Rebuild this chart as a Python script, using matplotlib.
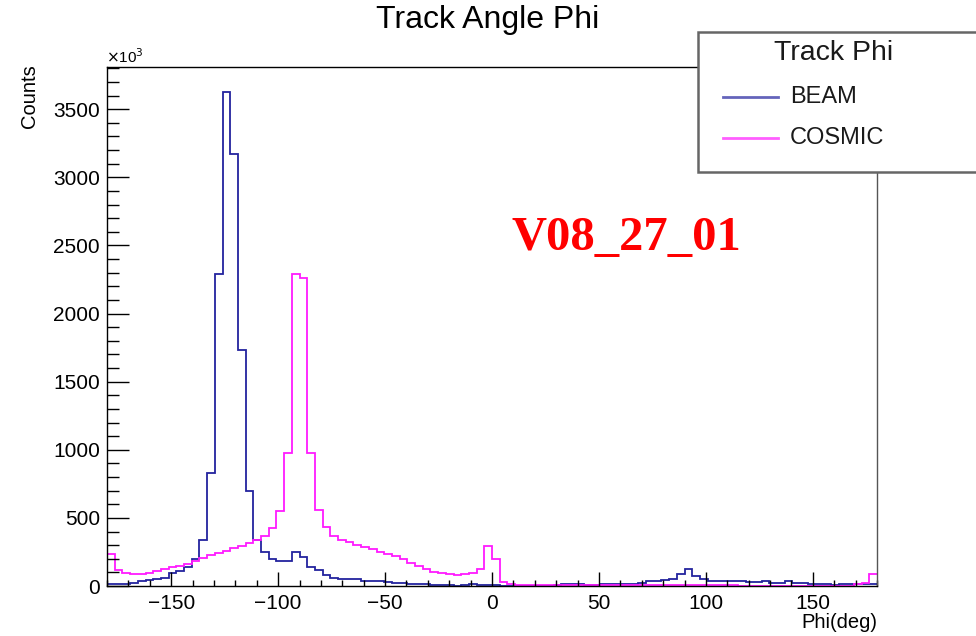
"""Track angle phi histogram, BEAM vs COSMIC (ROOT style)."""

import matplotlib

matplotlib.use("Agg")
import matplotlib.pyplot as plt
import numpy as np
from matplotlib.lines import Line2D
from matplotlib.patches import Rectangle
from matplotlib.ticker import MultipleLocator

# 100 bins from -180 to 180 deg
phi_range = (-180, 180)
n_bins = 100

beam_counts = [
    15, 15, 18, 25, 40, 45, 50, 60, 95, 110,
    140, 195, 340, 830, 2290, 3630, 3170, 1730, 700, 340,
    250, 200, 180, 180, 250, 215, 140, 115, 80, 60,
    50, 55, 50, 40, 38, 35, 30, 25, 20, 18,
    15, 12, 10, 5, 5, 3, 5, 12, 8, 5,
    5, 3, 2, 1, 1, 1, 1, 2, 5, 17,
    17, 17, 5, 5, 17, 17, 17, 17, 17, 25,
    35, 35, 45, 55, 85, 127, 75, 55, 40, 40,
    40, 40, 39, 30, 30, 39, 25, 25, 39, 25,
    25, 15, 12, 12, 10, 12, 12, 15, 15, 15,
]

cosmic_counts = [
    232, 120, 92, 85, 85, 95, 112, 122, 138, 150,
    165, 185, 205, 225, 245, 260, 280, 295, 315, 335,
    370, 425, 550, 980, 2290, 2260, 980, 555, 430, 365,
    340, 320, 300, 285, 268, 250, 235, 218, 195, 170,
    150, 125, 105, 92, 86, 83, 85, 98, 122, 295,
    200, 30, 12, 10, 5, 4, 4, 5, 5, 4,
    4, 4, 4, 4, 4, 4, 4, 4, 4, 4,
    4, 4, 4, 4, 4, 4, 4, 4, 4, 4,
    4, 4, 3, 3, 3, 3, 3, 3, 3, 3,
    3, 3, 3, 3, 3, 3, 3, 12, 25, 86,
]

series_labels = ["BEAM", "COSMIC"]
series_colors = ["#23239e", "#ff1aff"]

W, H = 976, 636
FONT = "Liberation Sans"


def fx(px):
    return px / W


def fy(py):
    return 1 - py / H


def main() -> None:
    plt.rcParams["font.family"] = FONT
    fig = plt.figure(figsize=(W / 100, H / 100), dpi=100)
    ax = fig.add_axes([fx(107), fy(586), fx(877) - fx(107), fy(67) - fy(586)])

    edges = np.linspace(phi_range[0], phi_range[1], n_bins + 1)
    ax.stairs(beam_counts, edges, color=series_colors[0], lw=1.3, baseline=None)
    ax.stairs(cosmic_counts, edges, color=series_colors[1], lw=1.3, baseline=None)

    ax.set_xlim(*phi_range)
    ax.set_ylim(0, 3810)

    ax.xaxis.set_major_locator(MultipleLocator(50))
    ax.xaxis.set_minor_locator(MultipleLocator(10))
    ax.yaxis.set_major_locator(MultipleLocator(500))
    ax.yaxis.set_minor_locator(MultipleLocator(100))
    ax.tick_params(axis="x", which="major", direction="in", length=10, width=1,
                   pad=6, labelsize=15, top=False)
    ax.tick_params(axis="x", which="minor", direction="in", length=4.5, width=1, top=False)
    ax.tick_params(axis="y", which="major", direction="in", length=16, width=1,
                   pad=5, labelsize=15, right=False)
    ax.tick_params(axis="y", which="minor", direction="in", length=8.5, width=1, right=False)
    for side in ["left", "bottom", "top", "right"]:
        ax.spines[side].set_linewidth(1.0)
    ax.spines["right"].set_color("#555555")

    fig.text(fx(488), fy(20), "Track Angle Phi", ha="center", va="center", fontsize=23)
    fig.text(fx(30), fy(64), "Counts", rotation=90, ha="center", va="top", fontsize=14.5)
    fig.text(fx(877), fy(622), "Phi(deg)", ha="right", va="center", fontsize=14.5)
    fig.text(fx(106), fy(57), r"$\times$10$^{3}$", ha="left", va="center", fontsize=11)

    fig.text(fx(512), fy(238), "V08_27_01", ha="left", va="center", fontsize=35,
             fontweight="bold", color="#ff0000", family="Liberation Serif")

    # legend box, drawn over the frame like the ROOT pave
    fig.add_artist(Rectangle((fx(698), fy(172)), fx(990) - fx(698), fy(32) - fy(172),
                             transform=fig.transFigure, facecolor="white",
                             edgecolor="#666666", lw=1.8, zorder=5))
    fig.text(fx(834), fy(53), "Track Phi", ha="center", va="center", fontsize=20.5,
             color="#1a1a1a", zorder=6)
    for label, color, ypx in zip(series_labels, series_colors, [97, 138]):
        fig.add_artist(Line2D([fx(723), fx(778)], [fy(ypx), fy(ypx)], color=color,
                              lw=2, alpha=0.7, transform=fig.transFigure, zorder=6))
        fig.text(fx(790), fy(ypx), label, ha="left", va="center", fontsize=17,
                 color="#1a1a1a", zorder=6)

    fig.savefig("out.png", dpi=100)
    plt.close(fig)


if __name__ == "__main__":
    main()
